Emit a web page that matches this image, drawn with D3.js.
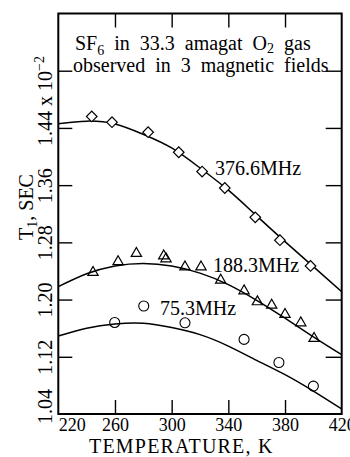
<!DOCTYPE html>
<html><head><meta charset="utf-8">
<script src="https://cdn.jsdelivr.net/npm/d3@7"></script>
<style>
body{margin:0;background:#fff}
svg{display:block}
svg text{font-family:"Liberation Serif","Times New Roman",serif !important;fill:#000}
</style>
</head><body><div id="chart"></div>
<script>
// ---- data ----
const xTicks = [220, 260, 300, 340, 380, 420];
const yTicks = [1.04, 1.12, 1.20, 1.28, 1.36, 1.44];
const yInnerTicks = [1.12, 1.20, 1.28, 1.36, 1.44, 1.52];
const xInnerTicks = [260, 300, 340, 380];
const seriesNames = ["376.6MHz", "188.3MHz", "75.3MHz"];

// measured points
const temp376 = [243.6, 257.9, 283.4, 305, 321.5, 337.5, 359, 376.4, 398];
const t1_376  = [1.456, 1.448, 1.434, 1.406, 1.379, 1.356, 1.315, 1.283, 1.247];

const temp188 = [244.5, 262.2, 275.1, 294.4, 296, 309.4, 320.7, 334.6, 351.1, 360.5, 370.6, 380, 391.1, 400.5];
const t1_188  = [1.238, 1.253, 1.2645, 1.261, 1.257, 1.2457, 1.2457, 1.2271, 1.2122, 1.1969, 1.1922, 1.1792, 1.1675, 1.1457];

const temp75 = [259.8, 280.3, 309.4, 351.1, 375.7, 400];
const t1_75  = [1.168, 1.191, 1.1675, 1.1443, 1.112, 1.079];

// fitted curves
const fitTemp = [220, 240, 260, 280, 300, 320, 340, 360, 380, 400, 420];
const fit376  = [1.446, 1.4495, 1.4455, 1.431, 1.412, 1.384, 1.353, 1.317, 1.281, 1.246, 1.211];
const fit188  = [1.218, 1.236, 1.247, 1.2505, 1.247, 1.237, 1.221, 1.199, 1.174, 1.148, 1.123];
const fit75   = [1.149, 1.160, 1.166, 1.167, 1.161, 1.151, 1.135, 1.115, 1.095, 1.072, 1.047];

// ---- chart ----
const W = 350, H = 457;
const pL = 58.3, pR = 341.7, pT = 13.5, pB = 414;
const FONT = '"Liberation Serif","Times New Roman",serif';
const svg = d3.select("#chart").append("svg").attr("width", W).attr("height", H)
  .attr("font-family", FONT);
const x = d3.scaleLinear().domain([220, 420]).range([pL, pR]);
const y = d3.scaleLinear().domain([1.04, 1.60]).range([pB, pT]);

svg.append("clipPath").attr("id", "c").append("rect")
  .attr("x", pL).attr("y", pT).attr("width", pR - pL).attr("height", pB - pT);

// frame
svg.append("rect").attr("x", pL).attr("y", pT).attr("width", pR - pL).attr("height", pB - pT)
  .attr("fill", "none").attr("stroke", "#000").attr("stroke-width", 2);

function cleanAxis(g){ g.select(".domain").remove(); g.selectAll("line").attr("stroke","#000").attr("stroke-width",1.4); }

// inner ticks
svg.append("g").attr("transform", `translate(0,${pB})`)
  .call(d3.axisBottom(x).tickValues(xInnerTicks).tickSize(-14).tickFormat("")).call(cleanAxis);
svg.append("g").attr("transform", `translate(0,${pT})`)
  .call(d3.axisTop(x).tickValues(xInnerTicks).tickSize(-14).tickFormat("")).call(cleanAxis);
svg.append("g").attr("transform", `translate(${pL},0)`)
  .call(d3.axisLeft(y).tickValues(yInnerTicks).tickSize(-14).tickFormat("")).call(cleanAxis);
svg.append("g").attr("transform", `translate(${pR},0)`)
  .call(d3.axisRight(y).tickValues(yInnerTicks).tickSize(-16).tickFormat("")).call(cleanAxis);

// bottom labels
const xa = svg.append("g").attr("transform", `translate(0,${pB})`)
  .call(d3.axisBottom(x).tickValues(xTicks).tickSize(0).tickPadding(4).tickFormat(d3.format("d")));
xa.attr("font-family", FONT).attr("font-size", 18);
xa.select(".domain").remove();
xa.selectAll("text").attr("font-family", FONT).attr("font-size", 18)
  .attr("text-anchor", d => d === 220 ? "start" : "middle");

// left labels (rotated)
const ya = svg.append("g").attr("transform", `translate(${pL},0)`)
  .call(d3.axisLeft(y).tickValues(yTicks).tickSize(0).tickFormat(d3.format(".2f")));
ya.attr("font-family", FONT).attr("font-size", 20);
ya.select(".domain").remove();
ya.selectAll("text")
  .attr("font-family", FONT).attr("font-size", 20)
  .attr("transform", "rotate(-90)")
  .attr("y", -6.3).attr("dy", 0)
  .attr("x", d => d === 1.04 ? 8 : (d === 1.44 ? -17.5 : 0))
  .attr("text-anchor", d => d === 1.44 ? "start" : "middle");
const t144 = ya.selectAll("text").filter(d => d === 1.44);
t144.append("tspan").text(" x 10");
t144.append("tspan").attr("font-size", 14).attr("dy", -8).text("\u2212");
t144.append("tspan").attr("font-size", 14).text("2");

// curves
const line = d3.line().x(d => x(d[0])).y(d => y(d[1])).curve(d3.curveNatural);
const curves = [fit376, fit188, fit75];
const gc = svg.append("g").attr("clip-path", "url(#c)");
curves.forEach(vals => {
  gc.append("path").datum(fitTemp.map((t, i) => [t, vals[i]]))
    .attr("d", line).attr("fill", "none").attr("stroke", "#000").attr("stroke-width", 1.5);
});

// markers
svg.append("g").selectAll("path").data(temp376.map((t, i) => [t, t1_376[i]])).join("path")
  .attr("transform", d => `translate(${x(d[0])},${y(d[1])}) rotate(45)`)
  .attr("d", d3.symbol().type(d3.symbolSquare).size(56)())
  .attr("fill", "#fff").attr("stroke", "#000").attr("stroke-width", 1.2);
svg.append("g").selectAll("path").data(temp188.map((t, i) => [t, t1_188[i]])).join("path")
  .attr("transform", d => `translate(${x(d[0])},${y(d[1])})`)
  .attr("d", d3.symbol().type(d3.symbolTriangle).size(46)())
  .attr("fill", "none").attr("stroke", "#000").attr("stroke-width", 1.2);
svg.append("g").selectAll("circle").data(temp75.map((t, i) => [t, t1_75[i]])).join("circle")
  .attr("cx", d => x(d[0])).attr("cy", d => y(d[1])).attr("r", 5)
  .attr("fill", "none").attr("stroke", "#000").attr("stroke-width", 1.1);

// series labels
const labelPos = [[330.6, 1.3738], [329.2, 1.2383], [291.8, 1.1783]];
seriesNames.forEach((n, i) => {
  svg.append("text").attr("x", x(labelPos[i][0])).attr("y", y(labelPos[i][1]))
    .attr("font-size", 20).text(n);
});

// title
const tt = svg.append("text").attr("x", 75).attr("y", 50).attr("font-size", 20).style("word-spacing", "5px");
tt.append("tspan").text("SF");
tt.append("tspan").attr("font-size", 14).attr("dy", 5).text("6");
tt.append("tspan").attr("dy", -5).text(" in 33.3 amagat O");
tt.append("tspan").attr("font-size", 14).attr("dy", 3).text("2");
tt.append("tspan").attr("dy", -3).text(" gas");
svg.append("text").attr("x", 73).attr("y", 72).attr("font-size", 20).style("word-spacing", "5px")
  .text("observed in 3 magnetic fields");

// axis titles
const yl = svg.append("text").attr("transform", "translate(33,207) rotate(-90)")
  .attr("text-anchor", "middle").attr("font-size", 20);
yl.append("tspan").text("T");
yl.append("tspan").attr("font-size", 14).attr("dy", 4).text("1");
yl.append("tspan").attr("dy", -4).text(", SEC");
svg.append("text").attr("x", 89).attr("y", 453).attr("font-size", 20).style("letter-spacing", "1.2px")
  .text("TEMPERATURE, K");
</script>
</body></html>
